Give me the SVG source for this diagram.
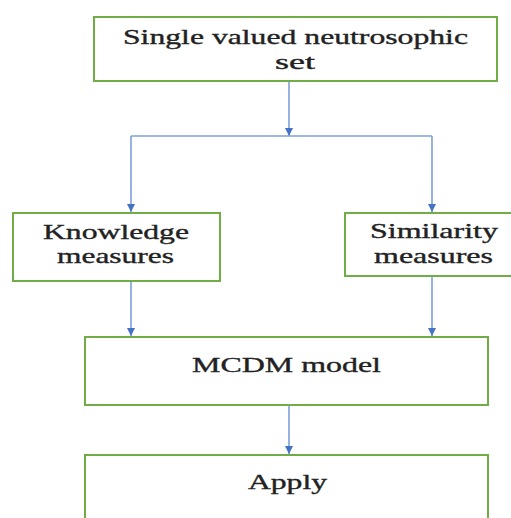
<svg xmlns="http://www.w3.org/2000/svg" width="511" height="518" viewBox="0 0 511 518">
<defs>
<marker id="ah" viewBox="0 0 10 10" refX="10" refY="5" markerWidth="10" markerHeight="8" markerUnits="userSpaceOnUse" orient="auto">
<path d="M0,0 L10,5 L0,10 z" fill="#4472C4"/>
</marker>
<style>
.box{fill:#fff;stroke:#70AD47;stroke-width:2}
.t{font-family:'Liberation Serif',serif;font-size:21px;fill:#222;stroke:#222;stroke-width:0.35}
.c{fill:none;stroke:#7E9FDA;stroke-width:1.6}
</style>
</defs>
<rect width="511" height="518" fill="#fff"/>
<g id="connectors">
<path class="c" d="M289,81 V136" marker-end="url(#ah)"/>
<path class="c" d="M131,136 H432"/>
<path class="c" d="M131,136 V212" marker-end="url(#ah)"/>
<path class="c" d="M432,136 V212" marker-end="url(#ah)"/>
<path class="c" d="M131,281 V336" marker-end="url(#ah)"/>
<path class="c" d="M432,276 V336" marker-end="url(#ah)"/>
<path class="c" d="M289,405 V454" marker-end="url(#ah)"/>
</g>
<g id="n1">
<rect class="box" x="94" y="17" width="403" height="64"/>
<text class="t" x="123" y="44" textLength="345" lengthAdjust="spacingAndGlyphs">Single valued neutrosophic</text>
<text class="t" x="275" y="69" textLength="40" lengthAdjust="spacingAndGlyphs">set</text>
</g>
<g id="n2">
<rect class="box" x="13" y="213" width="207" height="68"/>
<text class="t" x="43" y="239" textLength="146" lengthAdjust="spacingAndGlyphs">Knowledge</text>
<text class="t" x="57" y="263" textLength="117" lengthAdjust="spacingAndGlyphs">measures</text>
</g>
<g id="n3">
<rect class="box" x="345" y="213" width="172" height="63"/>
<text class="t" x="370" y="238" textLength="128" lengthAdjust="spacingAndGlyphs">Similarity</text>
<text class="t" x="374" y="263" textLength="119" lengthAdjust="spacingAndGlyphs">measures</text>
</g>
<g id="n4">
<rect class="box" x="85" y="337" width="403" height="68"/>
<text class="t" x="192" y="372" textLength="189" lengthAdjust="spacingAndGlyphs">MCDM model</text>
</g>
<g id="n5">
<rect class="box" x="85" y="455" width="403" height="70"/>
<text class="t" x="248" y="489" textLength="79" lengthAdjust="spacingAndGlyphs">Apply</text>
</g>
</svg>
